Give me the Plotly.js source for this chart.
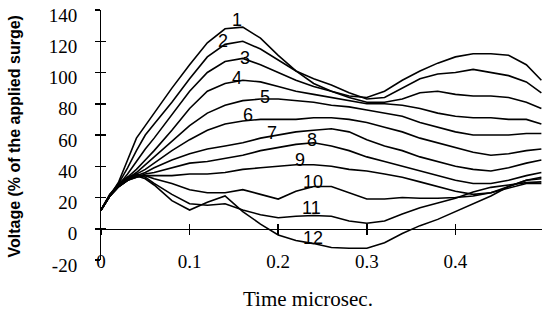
<!DOCTYPE html>
<html>
<head>
<meta charset="utf-8">
<script src="https://cdn.plot.ly/plotly-3.0.1.min.js"></script>
<style>
html,body{margin:0;padding:0;background:#fff;}
#chart{width:542px;height:313px;}
</style>
</head>
<body>
<div id="chart"></div>
<script>
// Time in microseconds
const time = [0, 0.01, 0.02, 0.03, 0.04, 0.05, 0.06, 0.08, 0.10, 0.12, 0.14, 0.16, 0.18, 0.20, 0.22, 0.24, 0.26, 0.28, 0.30, 0.32, 0.34, 0.36, 0.38, 0.40, 0.42, 0.44, 0.46, 0.48, 0.497];

// Voltage (% of applied surge) for each curve
const curve1  = [12, 21, 30, 44, 58, 66, 74, 90, 105, 119, 128, 129, 122, 111, 101, 93, 88, 85, 84, 88, 95, 101, 106, 110, 112, 112, 111, 105, 95];
const curve2  = [12, 21, 29, 39, 50, 60, 67, 81, 96, 110, 118, 120, 115, 108, 101, 96, 92, 87, 83, 84, 90, 96, 99, 100, 102, 100, 98, 94, 87];
const curve3  = [12, 21, 28, 35, 43, 51, 58, 73, 88, 100, 107, 109, 105, 100, 95, 91, 88, 84, 81, 81, 83, 87, 88, 86, 85, 85, 84, 81, 77];
const curve4  = [12, 21, 28, 33, 38, 44, 50, 63, 77, 88, 93, 95, 94, 91, 88, 86, 84, 82, 80, 80, 79, 77, 74, 72, 71, 71, 70, 70, 67];
const curve5  = [12, 21, 27, 32, 36, 41, 46, 56, 66, 74, 79, 82, 83, 83, 82, 81, 79, 78, 76, 74, 72, 68, 65, 62, 60, 60, 60, 61, 61];
const curve6  = [12, 21, 27, 31, 35, 38, 42, 50, 57, 63, 67, 69, 70, 70, 70, 71, 71, 70, 68, 65, 62, 58, 55, 52, 49, 47, 48, 50, 51];
const curve7  = [12, 21, 27, 31, 34, 36, 39, 44, 48, 51, 53, 55, 58, 60, 62, 63, 64, 62, 57, 53, 50, 46, 43, 40, 38, 37, 39, 42, 44];
const curve8  = [12, 21, 27, 31, 33, 35, 36, 39, 42, 43, 45, 47, 50, 52, 54, 55, 53, 50, 46, 43, 40, 37, 34, 31, 29, 29, 31, 34, 36];
const curve9  = [12, 21, 27, 31, 33, 34, 34, 34, 35, 35, 36, 38, 39, 40, 41, 41, 40, 38, 37, 35, 33, 30, 27, 24, 22, 23, 27, 31, 33];
const curve10 = [12, 22, 28, 32, 34, 34, 32, 29, 25, 23, 23, 25, 22, 19, 24, 27, 27, 23, 19, 19, 20, 19.5, 19.5, 20, 21, 23, 26, 29, 29];
const curve11 = [12, 22, 28, 33, 35, 33, 29, 22, 16, 15, 16, 12, 9, 7, 8, 8.5, 8, 5, 3.5, 5, 9.5, 13.5, 16.5, 19.5, 23.5, 26.5, 28, 29.5, 30];
const curve12 = [12, 22, 29, 33, 34, 32, 28, 18, 12, 17, 21, 11, 3, -4, -7.5, -9.5, -12, -12.5, -12.5, -9, -3, 2, 6, 11, 16, 21, 27, 31, 32];

const curveNames = ['1','2','3','4','5','6','7','8','9','10','11','12'];
// Where each curve's number label sits (time, voltage)
const labelTime  = [0.153, 0.138, 0.163, 0.153, 0.185, 0.166, 0.193, 0.238, 0.225, 0.239, 0.238, 0.239];
const labelValue = [133.6, 120.2, 109.3, 96.5, 84.3, 72.8, 61.3, 56.8, 44, 30, 13.3, -6];

const xTickVals = [0, 0.1, 0.2, 0.3, 0.4];
const xTickText = ['0', '0.1', '0.2', '0.3', '0.4'];
const yTickVals = [-20, 0, 20, 40, 60, 80, 100, 120, 140];
const yTickText = ['-20', '0', '20', '40', '60', '80', '100', '120', '140'];

const xTitle = 'Time microsec.';
const yTitle = 'Voltage (% of the applied surge)';

const series = [curve1, curve2, curve3, curve4, curve5, curve6, curve7, curve8, curve9, curve10, curve11, curve12];

const traces = series.map((vals, i) => ({
  type: 'scatter', mode: 'lines', x: time, y: vals, name: curveNames[i],
  line: {color: '#000', width: 1.6}, hoverinfo: 'skip', showlegend: false
}));
// empty helpers so the extra axes are drawn
traces.push({type: 'scatter', mode: 'lines', x: [], y: [], xaxis: 'x2', yaxis: 'y', showlegend: false});
traces.push({type: 'scatter', mode: 'lines', x: [], y: [], xaxis: 'x3', yaxis: 'y', showlegend: false});
traces.push({type: 'scatter', mode: 'lines', x: [], y: [], xaxis: 'x', yaxis: 'y2', showlegend: false});
traces.push({type: 'scatter', mode: 'lines', x: [], y: [], xaxis: 'x', yaxis: 'y3', showlegend: false});

const W = 542, H = 313;
const mL = 101, mT = 10, mB = 48;
const plotH = H - mT - mB;          // 255
const lblDrop = 5;                   // tick labels sit a few px below their ticks
const yDomain = [lblDrop / plotH, 1];
const yLabelDomain = [0, 1 - lblDrop / plotH];
const xRange = [0, 0.4977];
const yRange = [-20, 140];
const zeroFrac = (0 - yRange[0]) / (yRange[1] - yRange[0]);
const zeroPos = yDomain[0] + zeroFrac * (yDomain[1] - yDomain[0]);
const serif = 'Liberation Serif, Times New Roman, serif';
const sans = 'Liberation Sans, Arial, sans-serif';
const bottomPx = H - mB;             // paper y = 0

const baseX = {range: xRange, tickvals: xTickVals, showgrid: false, zeroline: false, fixedrange: true};
const annotations = curveNames.map((n, i) => ({
  text: n, x: labelTime[i], y: labelValue[i], xref: 'x', yref: 'y', showarrow: false,
  font: {family: sans, size: 18, color: '#000'},
  xanchor: 'center', yanchor: 'middle'
}));
annotations.push({
  text: xTitle, xref: 'paper', yref: 'paper', x: (307.5 - mL) / (W - mL), y: (bottomPx - 299) / plotH,
  showarrow: false, xanchor: 'center', yanchor: 'middle',
  font: {family: serif, size: 21, color: '#000'}
});
annotations.push({
  text: yTitle, xref: 'paper', yref: 'paper', x: (13.5 - mL) / (W - mL), y: (bottomPx - 137) / plotH,
  showarrow: false, xanchor: 'center', yanchor: 'middle', textangle: -90,
  font: {family: sans, size: 16, weight: 'bold', color: '#000'}
});

const layout = {
  width: W, height: H,
  margin: {l: mL, r: 0, t: mT, b: mB, pad: 0},
  paper_bgcolor: '#fff', plot_bgcolor: 'rgba(0,0,0,0)',
  showlegend: false,
  font: {family: serif, size: 19, color: '#000'},
  xaxis: Object.assign({}, baseX, {
    anchor: 'y', ticktext: xTickText, ticks: '', showline: false,
    tickfont: {family: serif, size: 19, color: '#000'},
    ticklabelstandoff: -12
  }),
  xaxis2: Object.assign({}, baseX, {
    overlaying: 'x', anchor: 'free', position: zeroPos,
    ticks: 'outside', ticklen: 5, tickwidth: 1.5, tickcolor: '#000',
    showline: true, linecolor: '#000', linewidth: 1.5, showticklabels: false
  }),
  xaxis3: Object.assign({}, baseX, {
    overlaying: 'x', anchor: 'free', position: zeroPos,
    ticks: 'inside', ticklen: 5, tickwidth: 1.5, tickcolor: '#000',
    showline: false, showticklabels: false
  }),
  yaxis: {
    domain: yDomain, range: yRange, tickvals: yTickVals, anchor: 'x',
    ticks: 'outside', ticklen: 5, tickwidth: 1.5, tickcolor: '#000',
    showline: true, linecolor: '#000', linewidth: 1.5,
    showgrid: false, zeroline: false, fixedrange: true, showticklabels: false
  },
  yaxis2: {
    range: yRange, tickvals: yTickVals, overlaying: 'y', anchor: 'x',
    ticks: 'inside', ticklen: 5, tickwidth: 1.5, tickcolor: '#000',
    showline: false, showticklabels: false, showgrid: false, zeroline: false, fixedrange: true
  },
  // tick-label axis: same scale, shifted a few px down; invisible long ticks push labels left
  yaxis3: {
    domain: yLabelDomain, range: yRange, tickvals: yTickVals, ticktext: yTickText, anchor: 'x', side: 'left',
    ticks: 'outside', ticklen: 19, tickwidth: 1, tickcolor: 'rgba(0,0,0,0)',
    showline: false, showgrid: false, zeroline: false, fixedrange: true,
    tickfont: {family: serif, size: 19, color: '#000'},
    ticklabeloverflow: 'allow'
  },
  annotations: annotations
};

Plotly.newPlot('chart', traces, layout, {staticPlot: true, displayModeBar: false});
</script>
</body>
</html>
